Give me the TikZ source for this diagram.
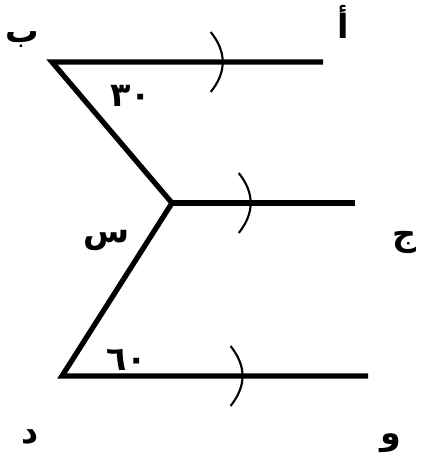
\documentclass[tikz,border=0pt]{standalone}
\usepackage{fontspec}
\newfontfamily\arabicfont[Script=Arabic]{DejaVu Sans}
\TeXXeTstate=1
\usetikzlibrary{decorations.markings}

\begin{document}
\begin{tikzpicture}[
    x=0.2mm,y=-0.2mm,
    every node/.style={font=\arabicfont\bfseries\fontsize{19}{22}\selectfont,inner sep=0pt},
    line/.style={line width=3pt,line join=miter},
    parmark/.style={postaction={decorate,decoration={markings,
        mark=at position #1 with {\draw[line width=1.2pt]
          (-2.4mm,6mm) .. controls (0.8mm,2mm) and (0.8mm,-2mm) .. (-2.4mm,-6mm);}}}}
]
\useasboundingbox (0,0) rectangle (420,468);

\coordinate (b) at (52,62);
\coordinate (a) at (323,62);
\coordinate (m) at (172,203);
\coordinate (j) at (355,203);
\coordinate (d) at (62,376);
\coordinate (w) at (368,376);

\draw[line] (a) -- (b) -- (m) -- (d) -- (w);
\draw[line] (m) -- (j);

\path[parmark=0.63] (b) -- (a);
\path[parmark=0.43] (m) -- (j);
\path[parmark=0.59] (d) -- (w);

\node (lb) at (22,40) {ب};
\node (la) at (343,22) {أ};
\node (l30) at (131,96) {٣٠};
\node (lj) at (405,242) {ج};
\node (ls) at (107,240) {س};
\node (l60) at (127,360) {٦٠};
\node (ld) at (30,437) {د};
\node (lw) at (391,443) {و};
\end{tikzpicture}
\end{document}
